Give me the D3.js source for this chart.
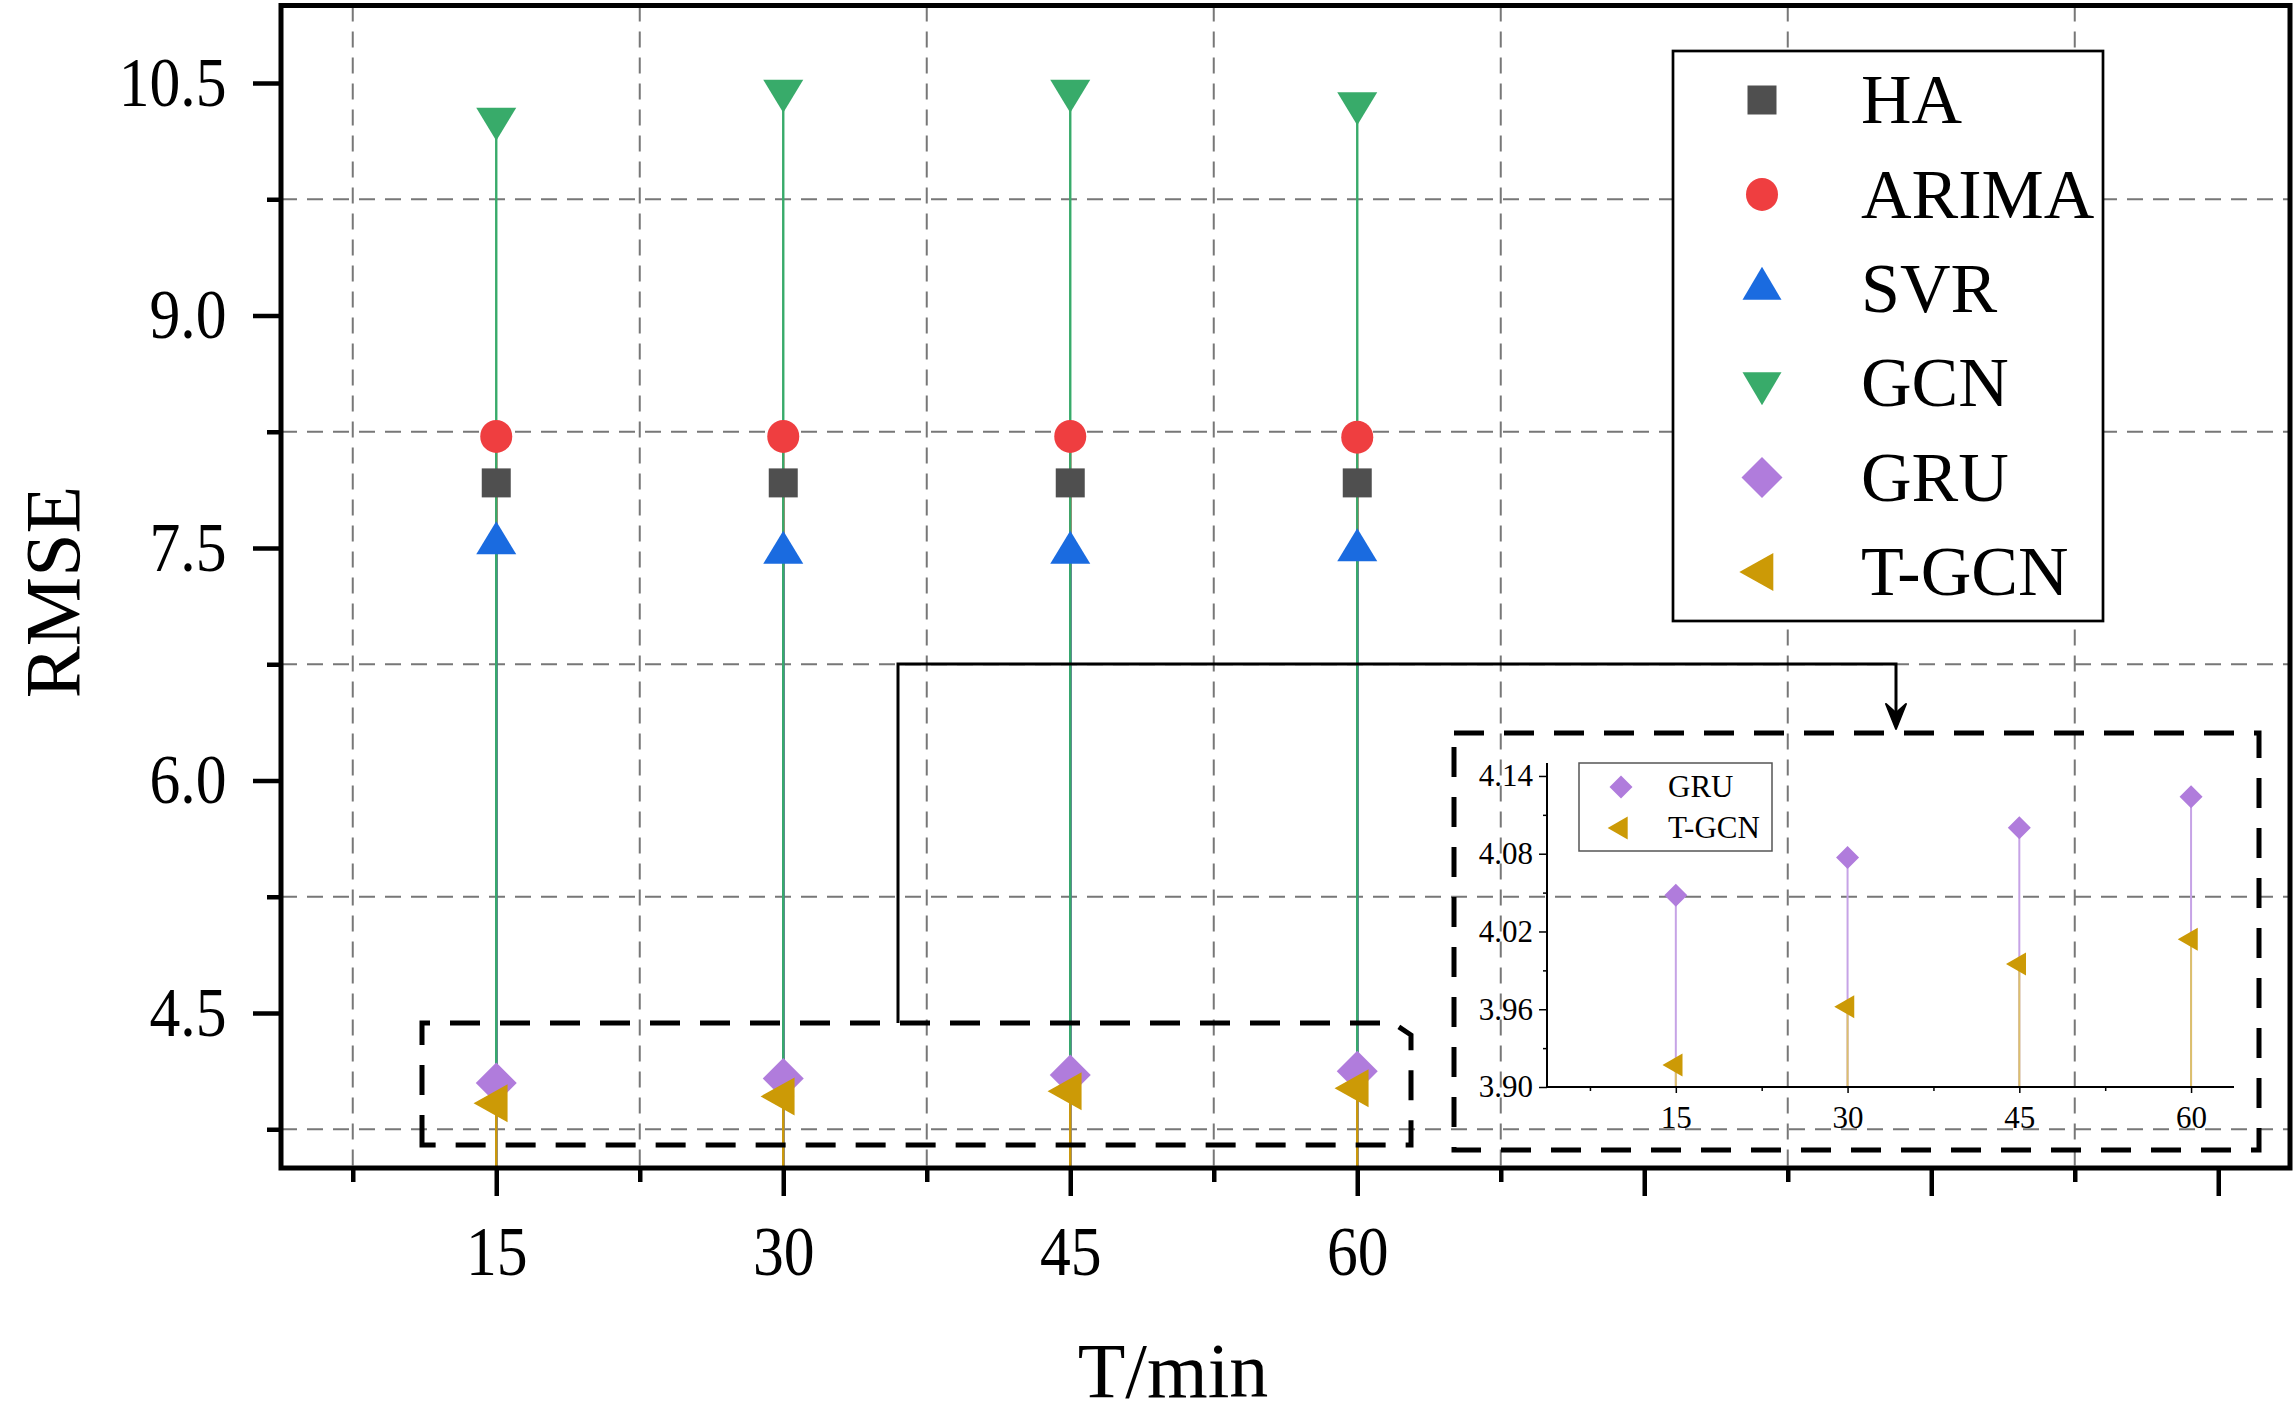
<!DOCTYPE html>
<html>
<head>
<meta charset="utf-8">
<script src="https://cdn.jsdelivr.net/npm/d3@7"></script>
<style>
  body { margin: 0; background: #fff; }
  text { font-family: "Liberation Serif", "Times New Roman", serif; fill: #000; }
</style>
</head>
<body>
<div id="chart"></div>
<script>
// values (RMSE per prediction horizon)
const periods = ["15", "30", "45", "60"];
const seriesNames = ["HA", "ARIMA", "SVR", "GCN", "GRU", "T-GCN"];
const haRMSE    = [7.92, 7.92, 7.92, 7.92];
const arimaRMSE = [8.22, 8.22, 8.22, 8.215];
const svrRMSE   = [7.53, 7.47, 7.47, 7.485];
const gcnRMSE   = [10.27, 10.45, 10.45, 10.37];
const gruRMSE   = [4.048, 4.077, 4.100, 4.124];
const tgcnRMSE  = [3.917, 3.962, 3.995, 4.014];

// axis ticks
const yMajorTicks = [4.5, 6.0, 7.5, 9.0, 10.5];
const yMinorTicks = [3.75, 5.25, 6.75, 8.25, 9.75];
const xMajorTicks = [1, 2, 3, 4, 5, 6, 7];
const xMinorTicks = [0.5, 1.5, 2.5, 3.5, 4.5, 5.5, 6.5];
const insetYTicks = [3.90, 3.96, 4.02, 4.08, 4.14];
const insetYMinor = [3.93, 3.99, 4.05, 4.11];
const insetXMinor = [0.5, 1.5, 2.5, 3.5];

// Set dimensions and margins
const width = 2296;
const height = 1419;
const margin = {left: 281, right: 6, top: 5.5, bottom: 251};

const colors = ["#4f4f4f", "#ef3e40", "#1a6be0", "#38ab6a", "#b07cdc", "#cc9a06"];
const shapes = ["square", "circle", "triUp", "triDown", "diamond", "triLeft"];
const mainSize = {square: [29, 29], circle: [32, 33], triUp: [40, 33], triDown: [40, 33], diamond: [41, 41], triLeft: [34, 38]};

const allValues = [haRMSE, arimaRMSE, svrRMSE, gcnRMSE, gruRMSE, tgcnRMSE];
const series = seriesNames.map((name, k) => ({
  name: name, values: allValues[k], color: colors[k], shape: shapes[k]
}));

// symbol outline, triangles centred on their centroid
function shapePath(shape, w, h) {
  const hw = w / 2, hh = h / 2;
  switch (shape) {
    case "square":  return `M${-hw},${-hh}H${hw}V${hh}H${-hw}Z`;
    case "circle":  return `M${-hw},0A${hw},${hh} 0 1,0 ${hw},0A${hw},${hh} 0 1,0 ${-hw},0Z`;
    case "triUp":   return `M0,${-2 * h / 3}L${hw},${h / 3}L${-hw},${h / 3}Z`;
    case "triDown": return `M0,${2 * h / 3}L${hw},${-h / 3}L${-hw},${-h / 3}Z`;
    case "diamond": return `M0,${-hh}L${hw},0L0,${hh}L${-hw},0Z`;
    case "triLeft": return `M${-2 * w / 3},0L${w / 3},${-hh}L${w / 3},${hh}Z`;
  }
}

const svg = d3.select("#chart")
  .append("svg")
  .attr("width", width)
  .attr("height", height)
  .attr("viewBox", [0, 0, width, height]);

// scales (x in category index space)
const x = d3.scaleLinear()
  .domain([0.25, 7.25])
  .range([margin.left, width - margin.right]);
const y = d3.scaleLinear()
  .domain([3.5, 11])
  .range([height - margin.bottom, margin.top]);

const plotBottom = height - margin.bottom;

// dashed grid at the minor ticks
const grid = svg.append("g")
  .attr("stroke", "#777")
  .attr("stroke-width", 2)
  .attr("stroke-dasharray", "16,10");
grid.selectAll(".hgrid")
  .data(yMinorTicks)
  .enter()
  .append("line")
    .attr("x1", margin.left).attr("x2", width - margin.right)
    .attr("y1", d => y(d)).attr("y2", d => y(d));
grid.selectAll(".vgrid")
  .data(xMinorTicks)
  .enter()
  .append("line")
    .attr("x1", d => x(d)).attr("x2", d => x(d))
    .attr("y1", margin.top).attr("y2", plotBottom);

// drop lines first, markers on top
const stems = svg.append("g");
series.forEach(s => {
  stems.selectAll(null)
    .data(s.values)
    .enter()
    .append("line")
      .attr("x1", (d, i) => x(i + 1)).attr("x2", (d, i) => x(i + 1))
      .attr("y1", d => y(d)).attr("y2", plotBottom)
      .attr("stroke", s.color)
      .attr("stroke-width", 2.4);
});

const marks = svg.append("g");
series.forEach(s => {
  const sz = mainSize[s.shape];
  marks.selectAll(null)
    .data(s.values)
    .enter()
    .append("path")
      .attr("transform", (d, i) => `translate(${x(i + 1)},${y(d)})`)
      .attr("d", shapePath(s.shape, sz[0], sz[1]))
      .attr("fill", s.color);
});

// axes (font attrs set after call, the axis resets them)
const xAxis = svg.append("g")
  .attr("transform", `translate(0,${plotBottom})`)
  .call(d3.axisBottom(x).tickValues(xMajorTicks).tickSize(28)
          .tickFormat(i => periods[i - 1] || ""))
  .attr("font-family", "Liberation Serif, serif")
  .attr("font-size", 70);
xAxis.select(".domain").remove();
xAxis.selectAll(".tick line").attr("stroke-width", 4.5);
xAxis.selectAll(".tick text")
  .attr("y", 57)
  .attr("dy", "0.71em")
  .attr("transform", "scale(0.88,1)");

const xAxisMinor = svg.append("g")
  .attr("transform", `translate(0,${plotBottom})`)
  .call(d3.axisBottom(x).tickValues(xMinorTicks).tickSize(14).tickFormat(""));
xAxisMinor.select(".domain").remove();
xAxisMinor.selectAll(".tick line").attr("stroke-width", 4.5);

const yAxis = svg.append("g")
  .attr("transform", `translate(${margin.left},0)`)
  .call(d3.axisLeft(y).tickValues(yMajorTicks).tickSize(28).tickFormat(d3.format(".1f")))
  .attr("font-family", "Liberation Serif, serif")
  .attr("font-size", 70);
yAxis.select(".domain").remove();
yAxis.selectAll(".tick line").attr("stroke-width", 4.5);
yAxis.selectAll(".tick text")
  .attr("x", -62)
  .attr("transform", "scale(0.88,1)");

const yAxisMinor = svg.append("g")
  .attr("transform", `translate(${margin.left},0)`)
  .call(d3.axisLeft(y).tickValues(yMinorTicks).tickSize(14).tickFormat(""));
yAxisMinor.select(".domain").remove();
yAxisMinor.selectAll(".tick line").attr("stroke-width", 4.5);

// frame
svg.append("rect")
  .attr("x", margin.left).attr("y", margin.top)
  .attr("width", width - margin.left - margin.right)
  .attr("height", plotBottom - margin.top)
  .attr("fill", "none")
  .attr("stroke", "#000")
  .attr("stroke-width", 5);

// axis titles
svg.append("text")
  .attr("transform", "translate(53,592) rotate(-90)")
  .attr("text-anchor", "middle")
  .attr("dy", "0.33em")
  .attr("font-size", 78)
  .text("RMSE");
svg.append("text")
  .attr("x", 1173).attr("y", 1397)
  .attr("text-anchor", "middle")
  .attr("font-size", 78)
  .text("T/min");

// zoom region box and connector arrow
svg.append("path")
  .attr("d", "M422,1145V1023H1393L1411,1035V1145Z")
  .attr("fill", "none").attr("stroke", "#000")
  .attr("stroke-width", 5).attr("stroke-dasharray", "30,20");
svg.append("path")
  .attr("d", "M898,1023V664H1896V722")
  .attr("fill", "none").attr("stroke", "#000").attr("stroke-width", 3);
svg.append("path")
  .attr("d", "M1896,729L1886,704L1896,713L1906,704Z")
  .attr("fill", "#000").attr("stroke", "#000").attr("stroke-width", 2)
  .attr("stroke-linejoin", "round");
svg.append("path")
  .attr("d", "M1454,733H2259V1150H1454Z")
  .attr("fill", "none").attr("stroke", "#000")
  .attr("stroke-width", 5).attr("stroke-dasharray", "30,20");

/*
  Inset: GRU and T-GCN close up
*/
const insetSeries = series.slice(4);
const insetStem = ["#c6a3e6", "#dcc06c"];
const insetSize = {diamond: [23, 23], triLeft: [20, 23]};

const ix = d3.scaleLinear().domain([0.25, 4.25]).range([1547, 2234]);
const iy = d3.scaleLinear().domain([3.90, 4.15]).range([1087, 763]);

const inset = svg.append("g");

insetSeries.forEach((s, k) => {
  inset.selectAll(null)
    .data(s.values)
    .enter()
    .append("line")
      .attr("x1", (d, i) => ix(i + 1)).attr("x2", (d, i) => ix(i + 1))
      .attr("y1", d => iy(d)).attr("y2", iy(3.90))
      .attr("stroke", insetStem[k])
      .attr("stroke-width", 2);
});
insetSeries.forEach(s => {
  const sz = insetSize[s.shape];
  inset.selectAll(null)
    .data(s.values)
    .enter()
    .append("path")
      .attr("transform", (d, i) => `translate(${ix(i + 1)},${iy(d)})`)
      .attr("d", shapePath(s.shape, sz[0], sz[1]))
      .attr("fill", s.color);
});

const ixAxis = inset.append("g")
  .attr("transform", `translate(0,${iy(3.90)})`)
  .call(d3.axisBottom(ix).tickValues([1, 2, 3, 4]).tickSize(6)
          .tickFormat(i => periods[i - 1]))
  .attr("font-family", "Liberation Serif, serif")
  .attr("font-size", 31);
ixAxis.select(".domain").attr("d", `M${ix(0.25)},0H${ix(4.25)}`).attr("stroke-width", 2);
ixAxis.selectAll(".tick line").attr("stroke-width", 1.5);
ixAxis.selectAll(".tick text").attr("y", 19).attr("dy", "0.71em");

const ixMinor = inset.append("g")
  .attr("transform", `translate(0,${iy(3.90)})`)
  .call(d3.axisBottom(ix).tickValues(insetXMinor).tickSize(4).tickFormat(""));
ixMinor.select(".domain").remove();
ixMinor.selectAll(".tick line").attr("stroke-width", 1.5);

const iyAxis = inset.append("g")
  .attr("transform", `translate(${ix(0.25)},0)`)
  .call(d3.axisLeft(iy).tickValues(insetYTicks).tickSize(8).tickPadding(6)
          .tickFormat(d3.format(".2f")))
  .attr("font-family", "Liberation Serif, serif")
  .attr("font-size", 31);
iyAxis.select(".domain").attr("d", `M0,${iy(3.90)}V${iy(4.15)}`).attr("stroke-width", 2);
iyAxis.selectAll(".tick line").attr("stroke-width", 1.5);

const iyMinor = inset.append("g")
  .attr("transform", `translate(${ix(0.25)},0)`)
  .call(d3.axisLeft(iy).tickValues(insetYMinor).tickSize(4).tickFormat(""));
iyMinor.select(".domain").remove();
iyMinor.selectAll(".tick line").attr("stroke-width", 1.5);

// inset legend
inset.append("rect")
  .attr("x", 1579).attr("y", 763).attr("width", 193).attr("height", 88)
  .attr("fill", "#fff").attr("stroke", "#555").attr("stroke-width", 1.5);
const insetLeg = inset.selectAll(".ileg")
  .data(insetSeries)
  .enter()
  .append("g")
    .attr("transform", (d, i) => `translate(1621,${787 + i * 41})`);
insetLeg.append("path")
  .attr("d", d => shapePath(d.shape, insetSize[d.shape][0], insetSize[d.shape][1]))
  .attr("fill", d => d.color);
insetLeg.append("text")
  .attr("x", 47).attr("dy", "0.33em")
  .attr("font-size", 31)
  .text(d => d.name);

/*
  Main legend
*/
svg.append("rect")
  .attr("x", 1673).attr("y", 51).attr("width", 430).attr("height", 570)
  .attr("fill", "#fff").attr("stroke", "#000").attr("stroke-width", 2.7);
const leg = svg.selectAll(".leg")
  .data(series)
  .enter()
  .append("g")
    .attr("transform", (d, i) => `translate(1762,${100 + i * 94.4})`);
leg.append("path")
  .attr("d", d => shapePath(d.shape, mainSize[d.shape][0] - (d.shape === "triUp" || d.shape === "triDown" ? 1 : 0), mainSize[d.shape][1]))
  .attr("fill", d => d.color);
leg.append("text")
  .attr("x", 99).attr("dy", "0.33em")
  .attr("font-size", 70)
  .text(d => d.name);
</script>
</body>
</html>
